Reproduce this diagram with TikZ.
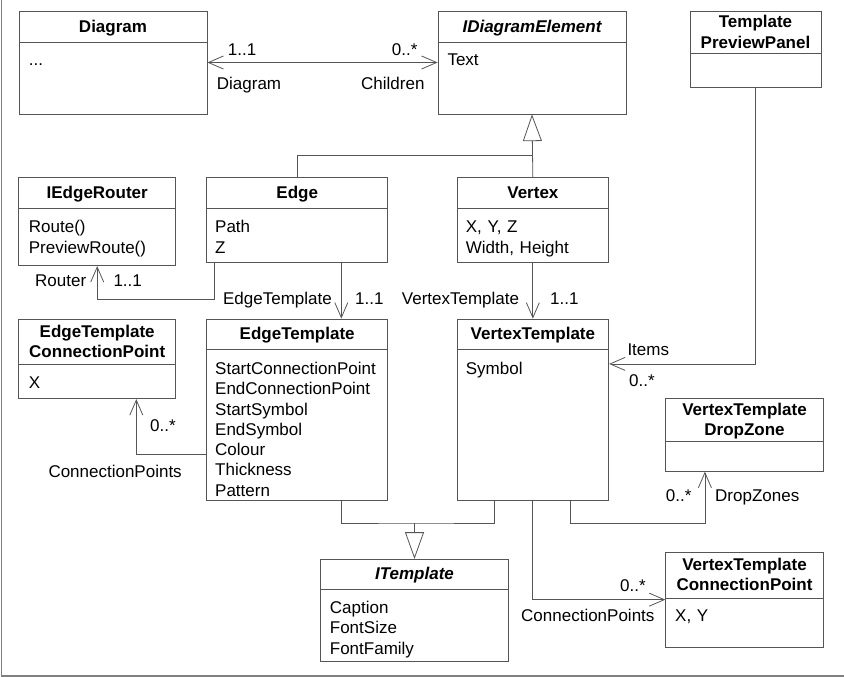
\documentclass[tikz,border=0pt]{standalone}
\usepackage{fontspec}
\setmainfont{Liberation Sans}
\usetikzlibrary{arrows.meta}

\definecolor{linec}{RGB}{85,85,85}
\tikzset{
  classbox/.style={draw=linec, line width=0.8pt, inner sep=0pt},
  sepline/.style={draw=linec, line width=0.8pt},
  headtext/.style={font=\fontsize{17}{20.5}\selectfont\bfseries, text width=160pt, align=center, anchor=base, inner sep=0pt},
  attrs/.style={font=\fontsize{17}{20.3}\selectfont, text width=170pt, align=left, anchor=base west, inner sep=0pt},
  lbl/.style={font=\fontsize{17}{20}\selectfont, anchor=base west, inner sep=0pt},
  assoc/.style={draw=linec, line width=0.8pt, -{Straight Barb[length=15pt,width=13pt]}},
  inherit/.style={draw=linec, line width=0.8pt, -{Triangle[open,length=26.7pt,width=19pt]}},
  wire/.style={draw=linec, line width=0.8pt}
}
% name, left, top, right, bottom, separator
\newcommand{\umlclass}[6]{%
  \node[classbox, minimum width={#4-#2}, minimum height={#5-#3}] (#1) at ({(#2+#4)/2},{(#3+#5)/2}) {};
  \draw[sepline] (#2,#6) -- (#4,#6);}

\begin{document}
\begin{tikzpicture}[x=1pt, y=-1pt]
  \useasboundingbox (0,0) rectangle (844,677);
  % frame of the screenshot
  \draw[gray, line width=1.2pt] (1.5,0) -- (1.5,676) -- (844,676);

  % classes
  \umlclass{diagram}{19}{11}{207}{114}{42}
  \umlclass{ide}{438}{11}{626}{114}{42}
  \umlclass{tpp}{690}{11}{821}{87}{53}
  \umlclass{router}{18.7}{177.7}{175.7}{265.7}{208}
  \umlclass{edge}{206.7}{177.7}{387.7}{262.3}{208}
  \umlclass{vertex}{457}{177.7}{608.7}{262.3}{208}
  \umlclass{etcp}{18.7}{319}{175.7}{398.7}{364.7}
  \umlclass{edgetpl}{206.7}{319}{387.7}{500}{349.3}
  \umlclass{vertextpl}{457}{319}{608.7}{500.3}{349.3}
  \umlclass{dropzone}{665.7}{398.7}{823.3}{471.3}{441.3}
  \umlclass{vtcp}{665.7}{552.3}{823.3}{647}{598.7}
  \umlclass{itemplate}{320.3}{559.3}{508.7}{661.3}{589}

  % class names
  \node[headtext] (diagramname) at (113,32.6) {Diagram};
  \node[headtext] (idename) at (532,32.6) {\itshape IDiagramElement};
  \node[headtext] (tppname) at (755.5,27.8) {Template\\PreviewPanel};
  \node[headtext] (routername) at (97.2,198.4) {IEdgeRouter};
  \node[headtext] (edgename) at (297.2,198.4) {Edge};
  \node[headtext] (vertexname) at (532.9,198.4) {Vertex};
  \node[headtext] (etcpname) at (97.2,337) {EdgeTemplate\\ConnectionPoint};
  \node[headtext] (edgetplname) at (297.2,339.4) {EdgeTemplate};
  \node[headtext] (vertextplname) at (532.9,339.4) {VertexTemplate};
  \node[headtext] (dropzonename) at (744.5,415.4) {VertexTemplate\\DropZone};
  \node[headtext] (vtcpname) at (744.5,570.4) {VertexTemplate\\ConnectionPoint};
  \node[headtext] (itemplatename) at (414.5,579.4) {\itshape ITemplate};

  % attributes
  \node[attrs] (diagramattr) at (28.7,66) {...};
  \node[attrs] (ideattr) at (447.3,66) {Text};
  \node[attrs] (routerattr) at (28.7,232.8) {Route()\\PreviewRoute()};
  \node[attrs] (edgeattr) at (215,232.8) {Path\\Z};
  \node[attrs] (vertexattr) at (465.7,232.8) {X, Y, Z\\Width, Height};
  \node[attrs] (etcpattr) at (28.7,388) {X};
  \node[attrs] (edgetplattr) at (215,374.4) {StartConnectionPoint\\EndConnectionPoint\\StartSymbol\\EndSymbol\\Colour\\Thickness\\Pattern};
  \node[attrs] (vertextplattr) at (465.7,374.4) {Symbol};
  \node[attrs] (vtcpattr) at (675,621.8) {X, Y};
  \node[attrs] (itemplateattr) at (329.7,613.4) {Caption\\FontSize\\FontFamily};

  % generalisations
  \coordinate (elemjoin) at (532.9,155);
  \draw[inherit] (vertex.north) -- (ide.south);
  \draw[wire] (edge.north) |- (elemjoin);
  \coordinate (tpljoin) at (414.5,523);
  \draw[inherit] (tpljoin) -- (itemplate.north);
  \draw[wire] ([xshift=135pt]edgetpl.south west) |- (tpljoin) -| ([xshift=38pt]vertextpl.south west);

  % associations
  \draw[assoc, {Straight Barb[length=15pt,width=13pt]}-{Straight Barb[length=15pt,width=13pt]}] (diagram.east) -- (ide.west);
  \draw[assoc] ([xshift=7.6pt]edge.south west) -- ++(0,36.7) -| (router.south);
  \draw[assoc] ([xshift=135pt]edge.south west) -- ([xshift=135pt]edgetpl.north west);
  \draw[assoc] (vertex.south) -- (vertextpl.north);
  \draw[assoc] (tpp.south) |- ([yshift=-45.3pt]vertextpl.north east);
  \draw[assoc] ([yshift=-136pt]edgetpl.north west) -| ([xshift=118pt]etcp.south west);
  \draw[assoc] ([xshift=113.7pt]vertextpl.south west) -- ++(0,22.7) -| ([xshift=39.6pt]dropzone.south west);
  \draw[assoc] (vertextpl.south) |- (vtcp.west);

  % role names and multiplicities
  \node[lbl] (m1) at (227.7,55.3) {1..1};
  \node[lbl] (m2) at (391.7,55.3) {0..*};
  \node[lbl] (r1) at (216.7,89.3) {Diagram};
  \node[lbl] (r2) at (361,89.3) {Children};
  \node[lbl] (r3) at (35,286) {Router};
  \node[lbl] (m3) at (113.3,286) {1..1};
  \node[lbl, anchor=base east] (r4) at (332,304.7) {EdgeTemplate};
  \node[lbl] (m4) at (355,304.7) {1..1};
  \node[lbl, anchor=base east] (r5) at (519.3,304.7) {VertexTemplate};
  \node[lbl] (m5) at (550,304.7) {1..1};
  \node[lbl] (m6) at (150,431) {0..*};
  \node[lbl] (r6) at (48.3,477) {ConnectionPoints};
  \node[lbl] (r7) at (627.3,355.4) {Items};
  \node[lbl] (m7) at (629,386) {0..*};
  \node[lbl] (m8) at (665.7,501) {0..*};
  \node[lbl] (r8) at (715,501) {DropZones};
  \node[lbl] (m9) at (620,591.7) {0..*};
  \node[lbl] (r9) at (521,621) {ConnectionPoints};
\end{tikzpicture}
\end{document}
